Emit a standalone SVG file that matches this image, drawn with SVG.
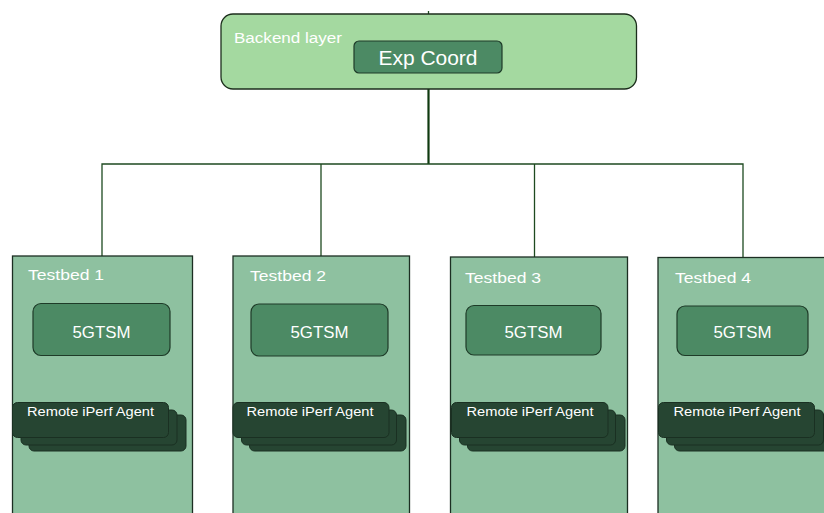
<svg xmlns="http://www.w3.org/2000/svg" width="824" height="513" viewBox="0 0 824 513">
  <style>
    text { font-family: "Liberation Sans", Arial, sans-serif; fill: #ffffff; }
    .layer { fill: #a4d9a0; stroke: #1c2e1c; stroke-width: 1.3; }
    .bed { fill: #8ec1a0; stroke: #1c2e22; stroke-width: 1.3; }
    .svc { fill: #4c8a64; stroke: #1e3b28; stroke-width: 1.2; }
    .agent { fill: #264532; stroke: #1a3022; stroke-width: 1; }
    .lbl { font-size: 15.5px; }
    .svc-lbl { font-size: 17px; text-anchor: middle; }
    .agent-lbl { font-size: 12.5px; }
    .wire { fill: none; stroke: #1e4a20; stroke-width: 1.3; }
    .trunk { fill: none; stroke: #0f3a10; stroke-width: 2.2; }
  </style>

  <!-- links from the coordinator down to each testbed -->
  <g id="connectors">
    <line class="wire" x1="428.5" y1="11" x2="428.5" y2="14"/>
    <line class="trunk" x1="428.5" y1="72" x2="428.5" y2="164"/>
    <polyline class="wire" points="102,256 102,164 743,164 743,257"/>
    <line class="wire" x1="321" y1="164" x2="321" y2="256"/>
    <line class="wire" x1="534.5" y1="164" x2="534.5" y2="257"/>
  </g>

  <g id="backend">
    <rect class="layer" x="221" y="14" width="415.5" height="75" rx="12"/>
    <text class="lbl" x="234" y="43" textLength="108" lengthAdjust="spacingAndGlyphs">Backend layer</text>
  </g>

  <g id="exp-coord">
    <rect class="svc" x="354" y="41" width="148" height="32" rx="5"/>
    <text x="428" y="64.5" font-size="21" text-anchor="middle" textLength="99" lengthAdjust="spacingAndGlyphs">Exp Coord</text>
  </g>

  <!-- Testbed 1 -->
  <g id="testbed-1">
    <rect class="bed" x="12.5" y="256" width="180" height="270"/>
    <text class="lbl" x="28" y="280" textLength="76" lengthAdjust="spacingAndGlyphs">Testbed 1</text>
    <g id="tsm-1">
      <rect class="svc" x="33" y="303.5" width="137" height="52" rx="8"/>
      <text class="svc-lbl" x="101.5" y="337.5" textLength="58" lengthAdjust="spacingAndGlyphs">5GTSM</text>
    </g>
    <g id="agent-1">
      <rect class="agent" x="29" y="415" width="157" height="36" rx="5"/>
      <rect class="agent" x="21" y="410" width="156" height="35" rx="5"/>
      <rect class="agent" x="12.5" y="402.5" width="156" height="35" rx="5"/>
      <text class="agent-lbl" x="27" y="416" textLength="127" lengthAdjust="spacingAndGlyphs">Remote iPerf Agent</text>
    </g>
  </g>

  <!-- Testbed 2 -->
  <g id="testbed-2">
    <rect class="bed" x="233" y="256" width="176.5" height="270"/>
    <text class="lbl" x="250" y="281" textLength="76" lengthAdjust="spacingAndGlyphs">Testbed 2</text>
    <g id="tsm-2">
      <rect class="svc" x="251" y="304" width="137" height="52" rx="8"/>
      <text class="svc-lbl" x="319.5" y="338" textLength="58" lengthAdjust="spacingAndGlyphs">5GTSM</text>
    </g>
    <g id="agent-2">
      <rect class="agent" x="249.5" y="415" width="156.5" height="36" rx="5"/>
      <rect class="agent" x="241.5" y="410" width="155" height="35" rx="5"/>
      <rect class="agent" x="233" y="402.5" width="156" height="35" rx="5"/>
      <text class="agent-lbl" x="246.5" y="416" textLength="127" lengthAdjust="spacingAndGlyphs">Remote iPerf Agent</text>
    </g>
  </g>

  <!-- Testbed 3 -->
  <g id="testbed-3">
    <rect class="bed" x="450.5" y="257" width="177" height="270"/>
    <text class="lbl" x="465" y="283" textLength="76" lengthAdjust="spacingAndGlyphs">Testbed 3</text>
    <g id="tsm-3">
      <rect class="svc" x="466" y="305.5" width="135" height="49.5" rx="8"/>
      <text class="svc-lbl" x="533.5" y="338" textLength="58" lengthAdjust="spacingAndGlyphs">5GTSM</text>
    </g>
    <g id="agent-3">
      <rect class="agent" x="467.5" y="415" width="157.5" height="36" rx="5"/>
      <rect class="agent" x="459.5" y="410" width="156" height="35" rx="5"/>
      <rect class="agent" x="451.5" y="402.5" width="156.5" height="35" rx="5"/>
      <text class="agent-lbl" x="466.5" y="416" textLength="127" lengthAdjust="spacingAndGlyphs">Remote iPerf Agent</text>
    </g>
  </g>

  <!-- Testbed 4 -->
  <g id="testbed-4">
    <rect class="bed" x="658" y="257.5" width="180" height="270"/>
    <text class="lbl" x="675" y="283" textLength="76" lengthAdjust="spacingAndGlyphs">Testbed 4</text>
    <g id="tsm-4">
      <rect class="svc" x="677" y="306" width="131" height="49.5" rx="8"/>
      <text class="svc-lbl" x="742.5" y="338" textLength="58" lengthAdjust="spacingAndGlyphs">5GTSM</text>
    </g>
    <g id="agent-4">
      <rect class="agent" x="674.5" y="415" width="157" height="36" rx="5"/>
      <rect class="agent" x="666.5" y="410" width="157" height="35" rx="5"/>
      <rect class="agent" x="658.5" y="402.5" width="156" height="35" rx="5"/>
      <text class="agent-lbl" x="673.5" y="416" textLength="127" lengthAdjust="spacingAndGlyphs">Remote iPerf Agent</text>
    </g>
  </g>
</svg>
